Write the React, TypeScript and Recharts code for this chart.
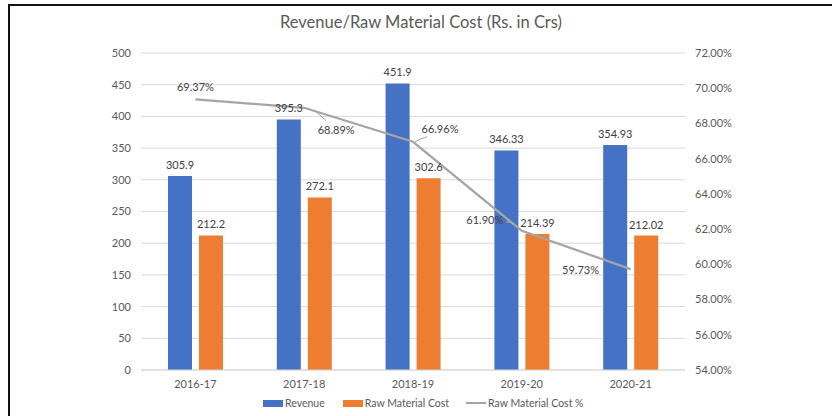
import React from "react";
import { ComposedChart, Bar, Line, XAxis, YAxis, CartesianGrid, LabelList } from "recharts";

const years = ["2016-17", "2017-18", "2018-19", "2019-20", "2020-21"];
const revenue = [305.9, 395.3, 451.9, 346.33, 354.93];
const rawMaterialCost = [212.2, 272.1, 302.6, 214.39, 212.02];
const rawMaterialPct = [69.37, 68.89, 66.96, 61.9, 59.73];
const leftTicks = [0, 50, 100, 150, 200, 250, 300, 350, 400, 450, 500];
const rightTicks = [54, 56, 58, 60, 62, 64, 66, 68, 70, 72];
const seriesNames = ["Revenue", "Raw Material Cost", "Raw Material Cost %"];

const BLUE = "#4472C4";
const ORANGE = "#ED7D31";
const GREY = "#A5A5A5";
const TEXT = "#595959";
const FONT = "Lato, 'Open Sans', sans-serif";

const data = years.map((y, i) => ({
  year: y,
  revenue: revenue[i],
  rmc: rawMaterialCost[i],
  pct: rawMaterialPct[i],
}));

// label placement relative to point: [dx, dy, leader]
const pctLabelPos: [number, number, boolean][] = [
  [0, -11, false],
  [32, 23, true],
  [27, -12, true],
  [-37, -10, true],
  [-50, 2, false],
];

const PctLabel = (props: any) => {
  const { x, y, value, index } = props;
  const [dx, dy, leader] = pctLabelPos[index] || [0, -10, false];
  const lx = x + dx;
  const ly = y + dy;
  let leaderPath = null;
  if (leader) {
    if (index === 1) leaderPath = `M${x + 12},${y + 4} L${x + 22},${y + 13}`;
    if (index === 2) leaderPath = `M${x + 2},${y} L${x + 8},${y - 3} L${x + 14},${y - 5}`;
    if (index === 3) leaderPath = `M${x - 16},${y - 9} L${x - 9},${y - 8} L${x - 2},${y - 2}`;
  }
  return (
    <g>
      {leaderPath && <path d={leaderPath} stroke={GREY} strokeWidth={1} fill="none" />}
      <text x={lx} y={ly} textAnchor="middle" dominantBaseline="middle" fontSize={11} fill="#404040" fontFamily={FONT}>
        {value.toFixed(2)}%
      </text>
    </g>
  );
};

const BarLabel = (props: any) => {
  const { x, y, width, value } = props;
  return (
    <text x={x + width / 2} y={y - 7} textAnchor="middle" fontSize={11} fill="#404040" fontFamily={FONT}>
      {value}
    </text>
  );
};

export default function App() {
  return (
    <div style={{ position: "absolute", left: 0, top: 0, width: 832, height: 416, background: "#fff", fontFamily: FONT, overflow: "hidden" }}>
      <div style={{ position: "absolute", left: 8, top: 4, width: 830, height: 420, borderTop: "2px solid #111", borderLeft: "2px solid #111" }} />
      <div style={{ position: "absolute", left: 0, top: 12, width: 842, textAlign: "center", fontSize: 16.5, color: TEXT }}>
        Revenue/Raw Material Cost (Rs. in Crs)
      </div>
      <div style={{ position: "absolute", left: 0, top: 0 }}>
        <ComposedChart width={832} height={416} data={data} margin={{ top: 53, right: 0, bottom: 0, left: 0 }} barGap={7} barSize={24}>
          <CartesianGrid yAxisId="left" horizontal vertical={false} stroke="#D9D9D9" strokeWidth={1} />
          <XAxis dataKey="year" height={46} tickLine={false} axisLine={{ stroke: "#D9D9D9" }} tick={{ fontSize: 11, fill: TEXT, fontFamily: FONT }} tickMargin={4} />
          <YAxis yAxisId="left" orientation="left" width={141} domain={[0, 500]} ticks={leftTicks} tickLine={false} axisLine={false} tick={{ fontSize: 11, fill: TEXT, fontFamily: FONT }} tickMargin={4} interval={0} />
          <YAxis yAxisId="right" orientation="right" width={147} domain={[54, 72]} ticks={rightTicks} tickLine={false} axisLine={false} tick={{ fontSize: 11, fill: TEXT, fontFamily: FONT }} tickMargin={4} interval={0} tickFormatter={(v: number) => v.toFixed(2) + "%"} />
          <Bar yAxisId="left" dataKey="revenue" name={seriesNames[0]} fill={BLUE} isAnimationActive={false}>
            <LabelList dataKey="revenue" content={BarLabel} />
          </Bar>
          <Bar yAxisId="left" dataKey="rmc" name={seriesNames[1]} fill={ORANGE} isAnimationActive={false}>
            <LabelList dataKey="rmc" content={BarLabel} />
          </Bar>
          <Line yAxisId="right" dataKey="pct" name={seriesNames[2]} stroke={GREY} strokeWidth={2.25} dot={false} type="linear" isAnimationActive={false}>
            <LabelList dataKey="pct" content={PctLabel} />
          </Line>
        </ComposedChart>
      </div>
      <div style={{ position: "absolute", left: 263, top: 397, display: "flex", alignItems: "center", fontSize: 10.5, color: TEXT, whiteSpace: "nowrap" }}>
        <span style={{ display: "inline-block", width: 20, height: 7, background: BLUE, marginRight: 2 }} />
        <span style={{ marginRight: 18 }}>{seriesNames[0]}</span>
        <span style={{ display: "inline-block", width: 20, height: 7, background: ORANGE, marginRight: 2 }} />
        <span style={{ marginRight: 17 }}>{seriesNames[1]}</span>
        <span style={{ display: "inline-block", width: 20, height: 2, background: GREY, marginRight: 2 }} />
        <span>{seriesNames[2]}</span>
      </div>
    </div>
  );
}
